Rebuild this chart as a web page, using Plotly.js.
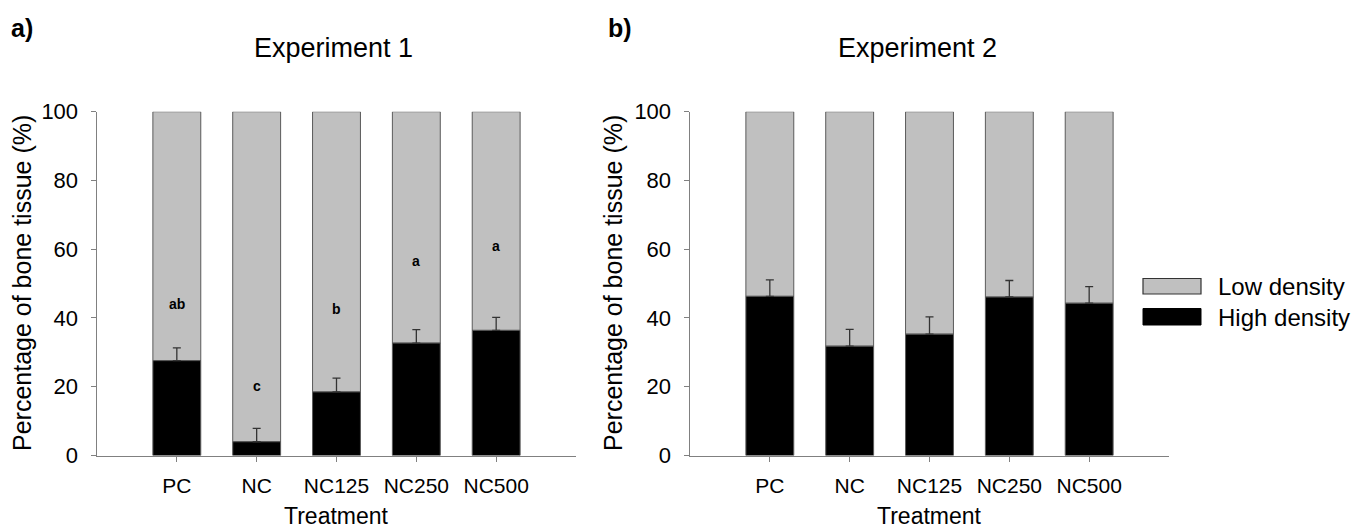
<!DOCTYPE html>
<html>
<head>
<meta charset="utf-8">
<script src="https://cdn.plot.ly/plotly-3.0.1.min.js"></script>
<style>
  html, body { margin: 0; padding: 0; background: #fff; }
  #chart { width: 1362px; height: 531px; }
</style>
</head>
<body>
<div id="chart"></div>
<script>
// ---- data ----
const treatments = ['PC', 'NC', 'NC125', 'NC250', 'NC500'];

const highExp1 = [27.6, 4.0, 18.5, 32.7, 36.4];
const lowExp1  = [72.4, 96.0, 81.5, 67.3, 63.6];
const errExp1  = [3.7, 3.9, 4.0, 3.9, 3.8];

const highExp2 = [46.3, 31.8, 35.3, 46.1, 44.3];
const lowExp2  = [53.7, 68.2, 64.7, 53.9, 55.7];
const errExp2  = [4.8, 4.9, 5.0, 4.8, 4.8];

const lettersExp1 = ['ab', 'c', 'b', 'a', 'a'];
const letterYExp1 = [44.2, 20.3, 42.6, 56.5, 61.0];

const yTicks = [0, 20, 40, 60, 80, 100];

// ---- style ----
const FONT = 'Arial, "Liberation Sans", sans-serif';
const LOW_COLOR = '#c0c0c0';
const HIGH_COLOR = '#000000';
const OUTLINE = '#5a5a5a';
const AXIS = '#808080';
const W = 1362, H = 531;
const px = v => v / W;
const py = v => 1 - v / H;

function lowTrace(low, high, xa, ya) {
  return {
    type: 'bar', x: treatments, y: low, base: high,
    xaxis: xa, yaxis: ya, width: 0.6,
    marker: { color: LOW_COLOR, line: { color: OUTLINE, width: 1 } },
    showlegend: false, hoverinfo: 'skip'
  };
}
function highTrace(high, err, xa, ya) {
  return {
    type: 'bar', x: treatments, y: high, base: 0,
    xaxis: xa, yaxis: ya, width: 0.6,
    marker: { color: HIGH_COLOR, line: { color: OUTLINE, width: 1 } },
    error_y: { type: 'data', symmetric: false, array: err,
               arrayminus: err.map(() => 0), color: '#333333', thickness: 1.3, width: 4 },
    showlegend: false, hoverinfo: 'skip'
  };
}

const data = [
  lowTrace(lowExp1, highExp1, 'x', 'y'),
  highTrace(highExp1, errExp1, 'x', 'y'),
  lowTrace(lowExp2, highExp2, 'x2', 'y2'),
  highTrace(highExp2, errExp2, 'x2', 'y2')
];

function xAxis(domain, anchor) {
  return {
    domain: domain, anchor: anchor, type: 'category', range: [-1, 5],
    showline: true, linecolor: AXIS, linewidth: 1.5, showgrid: false, zeroline: false,
    ticks: 'outside', ticklen: 5, tickcolor: AXIS, tickwidth: 1, ticklabelstandoff: 6,
    tickfont: { family: FONT, size: 21, color: '#000' }, fixedrange: true
  };
}
function yAxis(domain, anchor) {
  return {
    domain: domain, anchor: anchor, range: [0, 100],
    tickvals: yTicks, ticktext: yTicks.map(String),
    showline: true, linecolor: AXIS, linewidth: 1.5, showgrid: false, zeroline: false,
    ticks: 'outside', ticklen: 5, tickcolor: AXIS, tickwidth: 1, ticklabelstandoff: 8,
    tickfont: { family: FONT, size: 22, color: '#000' }, fixedrange: true
  };
}

const yDom = [py(455.5), py(111.7)];

const annotations = [
  { text: '<b>a)</b>', x: px(9), y: py(28), xanchor: 'left', yanchor: 'middle', font: { size: 25 } },
  { text: '<b>b)</b>', x: px(606), y: py(28), xanchor: 'left', yanchor: 'middle', font: { size: 25 } },
  { text: 'Experiment 1', x: px(333), y: py(48), xanchor: 'center', yanchor: 'middle', font: { size: 27 } },
  { text: 'Experiment 2', x: px(917), y: py(48), xanchor: 'center', yanchor: 'middle', font: { size: 27 } },
  { text: 'Percentage of bone tissue (%)', x: px(22), y: py(283), textangle: -90, xanchor: 'center', yanchor: 'middle', font: { size: 25 } },
  { text: 'Percentage of bone tissue (%)', x: px(613), y: py(283), textangle: -90, xanchor: 'center', yanchor: 'middle', font: { size: 25 } },
  { text: 'Treatment', x: px(336.5), y: py(516), xanchor: 'center', yanchor: 'middle', font: { size: 23 } },
  { text: 'Treatment', x: px(929.5), y: py(516), xanchor: 'center', yanchor: 'middle', font: { size: 23 } },
  { text: 'Low density', x: px(1216), y: py(286), xanchor: 'left', yanchor: 'middle', font: { size: 24 } },
  { text: 'High density', x: px(1216), y: py(317), xanchor: 'left', yanchor: 'middle', font: { size: 24 } }
].map(a => Object.assign({ xref: 'paper', yref: 'paper', showarrow: false }, a,
  { font: Object.assign({ family: FONT, color: '#000' }, a.font) }));

lettersExp1.forEach((t, i) => {
  annotations.push({
    text: '<b>' + t + '</b>', x: treatments[i], y: letterYExp1[i], xref: 'x', yref: 'y',
    showarrow: false, xanchor: 'center', yanchor: 'middle',
    font: { family: FONT, size: 14, color: '#000' }
  });
});

const shapes = [
  { type: 'rect', xref: 'paper', yref: 'paper', x0: px(1143), x1: px(1201), y0: py(294), y1: py(278.5),
    fillcolor: LOW_COLOR, line: { color: '#333', width: 1.2 } },
  { type: 'rect', xref: 'paper', yref: 'paper', x0: px(1143), x1: px(1201), y0: py(325), y1: py(308.5),
    fillcolor: HIGH_COLOR, line: { color: '#000', width: 1 } }
];

const layout = {
  width: W, height: H,
  margin: { l: 0, r: 0, t: 0, b: 0 },
  paper_bgcolor: '#fff', plot_bgcolor: '#fff',
  font: { family: FONT, color: '#000' },
  barmode: 'overlay',
  showlegend: false,
  xaxis: xAxis([px(97), px(576)], 'y'),
  yaxis: yAxis(yDom, 'x'),
  xaxis2: xAxis([px(690), px(1169)], 'y2'),
  yaxis2: yAxis(yDom, 'x2'),
  annotations: annotations,
  shapes: shapes
};

Plotly.newPlot('chart', data, layout, { displayModeBar: false, staticPlot: true });
</script>
</body>
</html>
